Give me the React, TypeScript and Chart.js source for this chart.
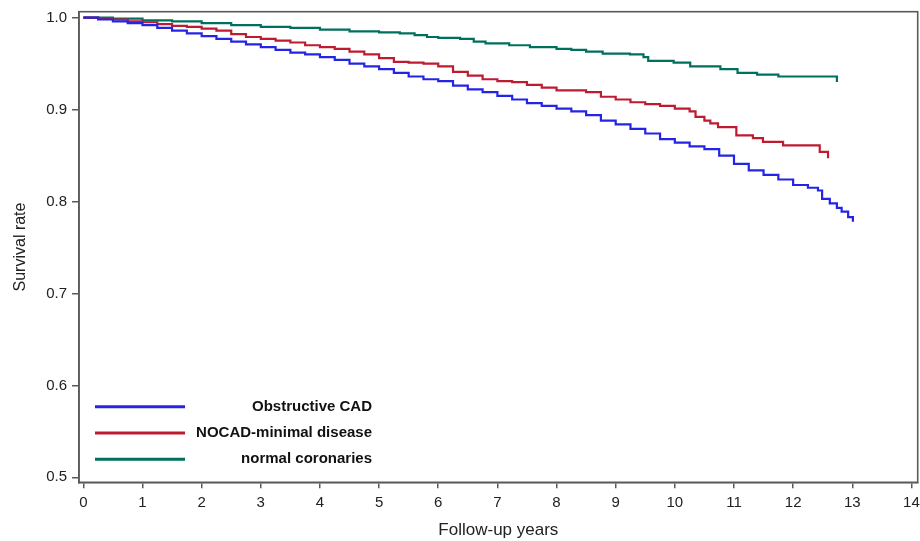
import { useEffect, useRef } from 'react';
import { Chart, registerables } from 'chart.js';

Chart.register(...registerables);

const xTicks = [0, 1, 2, 3, 4, 5, 6, 7, 8, 9, 10, 11, 12, 13, 14];
const yTicks = [0.5, 0.6, 0.7, 0.8, 0.9, 1.0];
const seriesNames = ['Obstructive CAD', 'NOCAD-minimal disease', 'normal coronaries'];
const seriesColors = ['#2424e6', '#be1a30', '#00705e'];

const obstructiveT = [0, 0.25, 0.5, 0.75, 1.0, 1.25, 1.5, 1.75, 2.0, 2.25, 2.5, 2.75, 3.0, 3.25, 3.5, 3.75, 4.0, 4.25, 4.5, 4.75, 5.0, 5.25, 5.5, 5.75, 6.0, 6.25, 6.5, 6.75, 7.0, 7.25, 7.5, 7.75, 8.0, 8.25, 8.5, 8.75, 9.0, 9.25, 9.5, 9.75, 10.0, 10.25, 10.5, 10.75, 11.0, 11.25, 11.5, 11.75, 12.0, 12.25, 12.42, 12.49, 12.62, 12.74, 12.82, 12.93, 13.01];
const obstructiveS = [1.0, 0.998, 0.996, 0.994, 0.992, 0.989, 0.986, 0.983, 0.98, 0.977, 0.974, 0.971, 0.968, 0.965, 0.962, 0.96, 0.957, 0.954, 0.95, 0.947, 0.944, 0.94, 0.936, 0.933, 0.931, 0.926, 0.922, 0.919, 0.915, 0.911, 0.907, 0.904, 0.901, 0.898, 0.894, 0.888, 0.884, 0.879, 0.874, 0.868, 0.864, 0.86, 0.857, 0.85, 0.841, 0.834, 0.829, 0.824, 0.818, 0.815, 0.812, 0.803, 0.798, 0.793, 0.789, 0.783, 0.778];

const nocadT = [0, 0.25, 0.5, 0.75, 1.0, 1.25, 1.5, 1.75, 2.0, 2.25, 2.5, 2.75, 3.0, 3.25, 3.5, 3.75, 4.0, 4.25, 4.5, 4.75, 5.0, 5.25, 5.5, 5.75, 6.0, 6.25, 6.5, 6.75, 7.0, 7.25, 7.5, 7.75, 8.0, 8.25, 8.5, 8.75, 9.0, 9.25, 9.5, 9.75, 10.0, 10.25, 10.35, 10.5, 10.6, 10.73, 11.04, 11.32, 11.49, 11.83, 12.45, 12.59];
const nocadS = [1.0, 0.999, 0.998, 0.996, 0.995, 0.993, 0.991, 0.99, 0.988, 0.986, 0.982, 0.979, 0.977, 0.975, 0.973, 0.97, 0.968, 0.966, 0.963, 0.96, 0.956, 0.952, 0.951, 0.95, 0.947, 0.941, 0.937, 0.933, 0.931, 0.93, 0.927, 0.924, 0.921, 0.921, 0.919, 0.914, 0.911, 0.908, 0.906, 0.904, 0.901, 0.898, 0.892, 0.888, 0.885, 0.881, 0.872, 0.869, 0.865, 0.861, 0.854, 0.847];

const normalT = [0, 0.5, 1.0, 1.5, 2.0, 2.5, 3.0, 3.5, 4.0, 4.5, 5.0, 5.35, 5.6, 5.81, 6.0, 6.37, 6.6, 6.8, 7.2, 7.55, 8.0, 8.25, 8.5, 8.78, 9.24, 9.47, 9.55, 9.98, 10.26, 10.77, 11.06, 11.39, 11.75, 12.74];
const normalS = [1.0, 0.999, 0.997, 0.996, 0.994, 0.992, 0.99, 0.989, 0.987, 0.985, 0.984, 0.983, 0.981, 0.979, 0.978, 0.977, 0.974, 0.972, 0.97, 0.968, 0.966, 0.965, 0.963, 0.961, 0.96, 0.957, 0.953, 0.951, 0.947, 0.944, 0.94, 0.938, 0.936, 0.93];

const FONT = "'Liberation Sans', Arial, Helvetica, sans-serif";
const AXIS_COLOR = '#5a5a5a';

const boxPlugin = {
  id: 'plotBox',
  afterDraw(chart: any) {
    const { ctx, chartArea } = chart;
    ctx.save();
    ctx.strokeStyle = AXIS_COLOR;
    ctx.lineWidth = 1.6;
    ctx.strokeRect(chartArea.left, chartArea.top, chartArea.right - chartArea.left, chartArea.bottom - chartArea.top);
    ctx.restore();
  },
};

const legendPlugin = {
  id: 'kmLegend',
  afterDatasetsDraw(chart: any) {
    const { ctx, chartArea } = chart;
    chart.data.datasets.forEach((ds: any, i: number) => {
      const y = chartArea.bottom - 75.6 + i * 26.3;
      ctx.save();
      ctx.strokeStyle = ds.borderColor;
      ctx.lineWidth = 3;
      ctx.beginPath();
      ctx.moveTo(chartArea.left + 16, y);
      ctx.lineTo(chartArea.left + 106, y);
      ctx.stroke();
      ctx.fillStyle = '#111';
      ctx.font = `bold 15px ${FONT}`;
      ctx.textAlign = 'right';
      ctx.textBaseline = 'middle';
      ctx.fillText(ds.label, chartArea.left + 293, y);
      ctx.restore();
    });
  },
};

export default function App() {
  const ref = useRef<HTMLCanvasElement | null>(null);

  useEffect(() => {
    if (!ref.current) return;
    const series = [
      [obstructiveT, obstructiveS],
      [nocadT, nocadS],
      [normalT, normalS],
    ];
    const chart = new Chart(ref.current, {
      type: 'line',
      data: {
        datasets: series.map(([t, s], i) => ({
          label: seriesNames[i],
          data: t.map((x, j) => ({ x, y: s[j] })),
          borderColor: seriesColors[i],
          backgroundColor: seriesColors[i],
          borderWidth: 2.2,
          pointRadius: 0,
          stepped: true,
          fill: false,
        })),
      },
      options: {
        animation: false,
        responsive: true,
        maintainAspectRatio: false,
        layout: { padding: { top: 11.7, right: 2.3, left: 0, bottom: 0 } },
        plugins: {
          legend: { display: false },
          tooltip: { enabled: false },
        },
        scales: {
          x: {
            type: 'linear',
            min: -0.0735,
            max: 14.106,
            afterBuildTicks: (scale: any) => {
              scale.ticks = xTicks.map((v) => ({ value: v }));
            },
            afterFit: (scale: any) => {
              scale.height = 58.7;
              scale.paddingLeft = 0;
              scale.paddingRight = 0;
            },
            grid: {
              drawOnChartArea: false,
              drawTicks: true,
              tickLength: 6,
              color: AXIS_COLOR,
              lineWidth: 1.5,
            },
            border: { display: true, color: AXIS_COLOR, width: 1.6 },
            ticks: {
              autoSkip: false,
              maxRotation: 0,
              padding: 6,
              color: '#222',
              font: { family: FONT, size: 15 },
              callback: (v: any) => String(v),
            },
            title: {
              display: true,
              text: 'Follow-up years',
              color: '#222',
              font: { family: FONT, size: 17 },
              padding: { top: 0, bottom: 0 },
            },
          },
          y: {
            type: 'linear',
            min: 0.4946,
            max: 1.0065,
            afterBuildTicks: (scale: any) => {
              scale.ticks = yTicks.map((v) => ({ value: v }));
            },
            afterFit: (scale: any) => {
              scale.width = 79;
              scale.paddingTop = 0;
              scale.paddingBottom = 0;
            },
            grid: {
              drawOnChartArea: false,
              drawTicks: true,
              tickLength: 7,
              color: AXIS_COLOR,
              lineWidth: 1.5,
            },
            border: { display: true, color: AXIS_COLOR, width: 1.6 },
            ticks: {
              autoSkip: false,
              padding: 5,
              color: '#222',
              font: { family: FONT, size: 15 },
              callback: (v: any) => Number(v).toFixed(1),
            },
            title: {
              display: true,
              text: 'Survival rate',
              color: '#222',
              font: { family: FONT, size: 16 },
              padding: { top: 11, bottom: 0 },
            },
          },
        },
      },
      plugins: [boxPlugin, legendPlugin],
    });
    return () => chart.destroy();
  }, []);

  return (
    <div style={{ position: 'fixed', left: 0, top: 0, width: 920, height: 541, background: '#fff' }}>
      <canvas ref={ref} />
    </div>
  );
}
